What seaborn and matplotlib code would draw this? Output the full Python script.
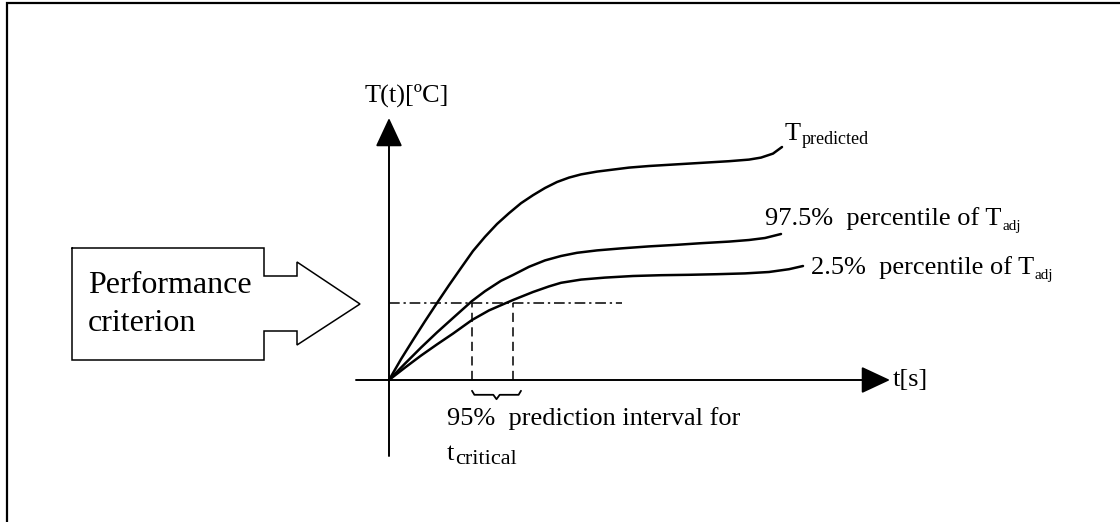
import matplotlib
matplotlib.use("Agg")
import matplotlib.pyplot as plt
import pandas as pd
import seaborn as sns

# schematic curves (t and T in arbitrary units)
t_pred = [0, 0.3, 0.6, 0.9, 1.2, 1.5, 1.8, 2.1, 2.4, 2.7, 3.0, 3.3, 3.6, 3.9, 4.2, 4.5, 4.8,
          5.2, 5.6, 6.0, 6.5, 7.0, 7.5, 8.0, 8.5, 9.0, 9.3, 9.6, 9.825]
T_pred = [0, 0.52, 1.0, 1.47, 1.925, 2.37, 2.8, 3.225, 3.58, 3.9, 4.17, 4.42, 4.62, 4.8, 4.95,
          5.06, 5.14, 5.21, 5.26, 5.31, 5.35, 5.38, 5.41, 5.44, 5.47, 5.51, 5.56, 5.66, 5.825]

t_hi = [0, 0.4, 0.8, 1.2, 1.6, 2.075, 2.4, 2.8, 3.1, 3.5, 3.9, 4.3, 4.7, 5.2, 5.8, 6.5, 7.2,
        7.8, 8.5, 9.0, 9.4, 9.8]
T_hi = [0, 0.41, 0.81, 1.19, 1.55, 1.975, 2.22, 2.48, 2.625, 2.83, 2.99, 3.1, 3.18, 3.24, 3.29,
        3.34, 3.38, 3.42, 3.46, 3.5, 3.55, 3.65]

t_lo = [0, 0.4, 0.8, 1.2, 1.6, 2.075, 2.5, 3.1, 3.6, 4.0, 4.3, 4.8, 5.4, 6.1, 6.8, 7.5, 8.2,
        8.9, 9.5, 10.0, 10.35]
T_lo = [0, 0.31, 0.61, 0.89, 1.16, 1.5, 1.74, 2.0, 2.2, 2.34, 2.43, 2.51, 2.56, 2.6, 2.62,
        2.63, 2.645, 2.665, 2.7, 2.77, 2.85]

T_crit = 1.925           # performance criterion level
t_crit = [2.075, 3.1]    # 95% prediction interval for t_critical
crit_end = 5.825

curves = pd.concat([
    pd.DataFrame({"t": t_pred, "T": T_pred, "curve": "pred"}),
    pd.DataFrame({"t": t_hi, "T": T_hi, "curve": "hi"}),
    pd.DataFrame({"t": t_lo, "T": T_lo, "curve": "lo"}),
])

sns.set_theme(style="white")
plt.rcParams["font.family"] = ["Liberation Serif", "DejaVu Serif"]
plt.rcParams["text.color"] = "black"

fig = plt.figure(figsize=(11.2, 5.22), dpi=100)
ax = fig.add_axes([0, 0, 1, 1])
ax.set_xlim(-9.725, 18.275)
ax.set_ylim(-3.55, 9.5)
ax.axis("off")

sns.lineplot(data=curves, x="t", y="T", hue="curve", units="curve", estimator=None,
             palette={"pred": "black", "hi": "black", "lo": "black"},
             linewidth=1.8, legend=False, ax=ax, sort=False)

# axes with arrow heads
head = dict(arrowstyle="-|>,head_length=1.5,head_width=0.7", lw=1.4, color="black",
            shrinkA=0, shrinkB=0)
ax.annotate("", xy=(12.525, 0), xytext=(-0.825, 0), arrowprops=head)
ax.annotate("", xy=(0, 6.55), xytext=(0, -1.9), arrowprops=head)

# criterion level and interval
ax.plot([0, crit_end], [T_crit, T_crit], color="black", lw=1.1, dashes=(7, 2.5, 1.5, 2.5))
for tc in t_crit:
    ax.plot([tc, tc], [0, T_crit], color="black", lw=1.1, dashes=(6, 3.5))

# curly brace under the interval
a, b = t_crit[0], t_crit[1] + 0.2
m = (a + b) / 2
ax.plot([a, a + 0.06, m - 0.08, m, m + 0.08, b - 0.06, b],
        [-0.27, -0.37, -0.37, -0.48, -0.37, -0.37, -0.27], color="black", lw=1.3)

# performance criterion arrow-box
px = [-7.925, -3.125, -3.125, -2.3, -2.3, -0.725, -2.3, -2.3, -3.125, -3.125, -7.925, -7.925]
py = [3.3, 3.3, 2.6, 2.6, 2.95, 1.9, 0.875, 1.225, 1.225, 0.5, 0.5, 3.3]
ax.plot(px, py, color="black", lw=1.1, solid_joinstyle="miter")

# frame (left and top only)
ax.plot([-9.55, -9.55, 18.3], [-3.6, 9.43, 9.43], color="black", lw=1.6, solid_joinstyle="miter")

fs = 19
ax.text(-7.525, 2.175, "Performance", fontsize=23, va="baseline")
ax.text(-7.525, 1.225, "criterion", fontsize=23, va="baseline")
ax.text(-0.6, 6.95, "T(t)[ºC]", fontsize=fs, va="baseline")
ax.text(12.6, 0, "t[s]", fontsize=fs, va="center")


def sub_label(x, y, main, sub, size, sub_size, dy):
    txt = ax.text(x, y, main, fontsize=size, va="baseline")
    ax.annotate(sub, xy=(1, 0), xycoords=txt, xytext=(0.5, dy), textcoords="offset points",
                fontsize=sub_size, va="baseline", ha="left")


sub_label(9.9, 6.0, "T", "predicted", fs, 13, 1)
sub_label(9.4, 3.875, "97.5%  percentile of T", "adj", fs, 11, 0)
sub_label(10.55, 2.65, "2.5%  percentile of T", "adj", fs, 11, 0)
ax.text(1.45, -1.125, "95%  prediction interval for", fontsize=fs, va="baseline")
sub_label(1.45, -2.0, "t", "critical", fs, 16, 1)

fig.savefig("out.png", dpi=100)
